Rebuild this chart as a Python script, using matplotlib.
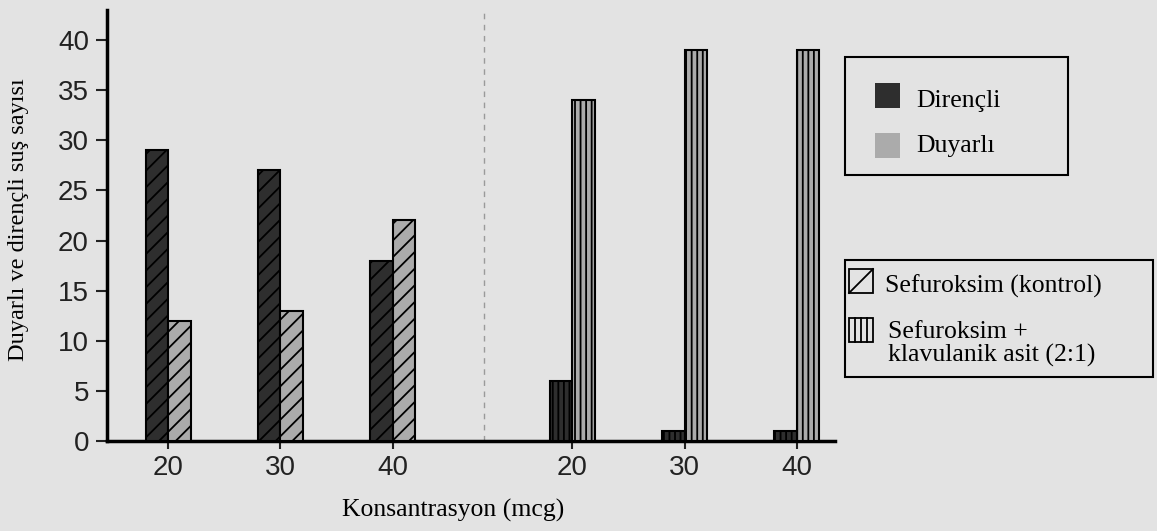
import matplotlib
matplotlib.use("Agg")
import matplotlib.pyplot as plt
from matplotlib.patches import Rectangle
from matplotlib.lines import Line2D

# Data
tick_labels = ["20", "30", "40", "20", "30", "40"]
resistant = [29, 27, 18, 6, 1, 1]     # Dirençli
sensitive = [12, 13, 22, 34, 39, 39]  # Duyarlı
hatches = ["//", "//", "//", "|||", "|||", "|||"]

positions = [1, 2, 3, 4.6, 5.6, 6.6]
bw = 0.2
bg = "#e3e3e3"
dark = "#2e2e2e"
light = "#ababab"
W, H = 1157, 531
serif = "Liberation Serif"
fs_serif = 18.5

plt.rcParams["hatch.linewidth"] = 1.3

fig = plt.figure(figsize=(W / 100, H / 100), dpi=100, facecolor=bg)
ax = fig.add_axes([107 / W, 1 - 441 / H, 728 / W, 431 / H], facecolor=bg)

for i, x in enumerate(positions):
    ax.bar(x - bw / 2, resistant[i], width=bw, color=dark, edgecolor="black",
           hatch=hatches[i], linewidth=1.5, zorder=3)
    ax.bar(x + bw / 2, sensitive[i], width=bw, color=light, edgecolor="black",
           hatch=hatches[i], linewidth=1.5, zorder=3)

ax.axvline(3.81, color="#9a9a9a", linestyle=(0, (4, 4)), linewidth=1)

ax.set_xlim(0.455, 6.94)
ax.set_ylim(0, 43)
ax.set_yticks(range(0, 41, 5))
ax.set_xticks(positions)
ax.set_xticklabels(tick_labels)
for sp in ["top", "right"]:
    ax.spines[sp].set_visible(False)
for sp in ["left", "bottom"]:
    ax.spines[sp].set_linewidth(2.5)
ax.tick_params(axis="both", labelsize=20, width=1.5,
               labelfontfamily="Liberation Sans", colors="#222222")
ax.tick_params(axis="y", length=8, pad=5)
ax.tick_params(axis="x", length=6, pad=4)

ax.set_ylabel("Duyarlı ve dirençli suş sayısı", family=serif, fontsize=17.5)
ax.yaxis.set_label_coords(-0.107, 0.513)
ax.set_xlabel("Konsantrasyon (mcg)", family=serif, fontsize=fs_serif)
ax.xaxis.set_label_coords(0.475, -0.135)


def fx(px):
    return px / W


def fy(py):
    return 1 - py / H


tf = fig.transFigure

# Legend 1 (colours)
fig.add_artist(Rectangle((fx(845), fy(175)), fx(1068) - fx(845), fy(57) - fy(175),
                         transform=tf, facecolor=bg, edgecolor="black", linewidth=1.5))
for (y0, col, lab, base) in [(83, dark, "Dirençli", 107), (133, light, "Duyarlı", 152)]:
    fig.add_artist(Rectangle((fx(875), fy(y0 + 25)), fx(900) - fx(875), fy(y0) - fy(y0 + 25),
                             transform=tf, facecolor=col, edgecolor="none"))
    fig.text(fx(916), fy(base), lab, family=serif, fontsize=fs_serif, va="baseline")

# Legend 2 (hatch patterns)
fig.add_artist(Rectangle((fx(845), fy(377)), fx(1153) - fx(845), fy(260) - fy(377),
                         transform=tf, facecolor=bg, edgecolor="black", linewidth=1.5))
# handle 1: box with one diagonal
fig.add_artist(Rectangle((fx(849), fy(293)), fx(873) - fx(849), fy(269) - fy(293),
                         transform=tf, facecolor=bg, edgecolor="black", linewidth=1.3))
fig.add_artist(Line2D([fx(849), fx(873)], [fy(293), fy(269)], transform=tf,
                      color="black", linewidth=1.3))
fig.text(fx(885), fy(293), "Sefuroksim (kontrol)", family=serif, fontsize=fs_serif,
         va="baseline")
# handle 2: box with vertical lines
fig.add_artist(Rectangle((fx(849), fy(342)), fx(873) - fx(849), fy(318) - fy(342),
                         transform=tf, facecolor=bg, edgecolor="black", linewidth=1.3))
for k in range(1, 4):
    xx = 849 + k * 6
    fig.add_artist(Line2D([fx(xx), fx(xx)], [fy(342), fy(318)], transform=tf,
                          color="black", linewidth=1.3))
fig.text(fx(888), fy(338), "Sefuroksim +", family=serif, fontsize=fs_serif, va="baseline")
fig.text(fx(888), fy(362), "klavulanik asit (2:1)", family=serif, fontsize=fs_serif,
         va="baseline")

fig.savefig("out.png", dpi=100, facecolor=bg)
